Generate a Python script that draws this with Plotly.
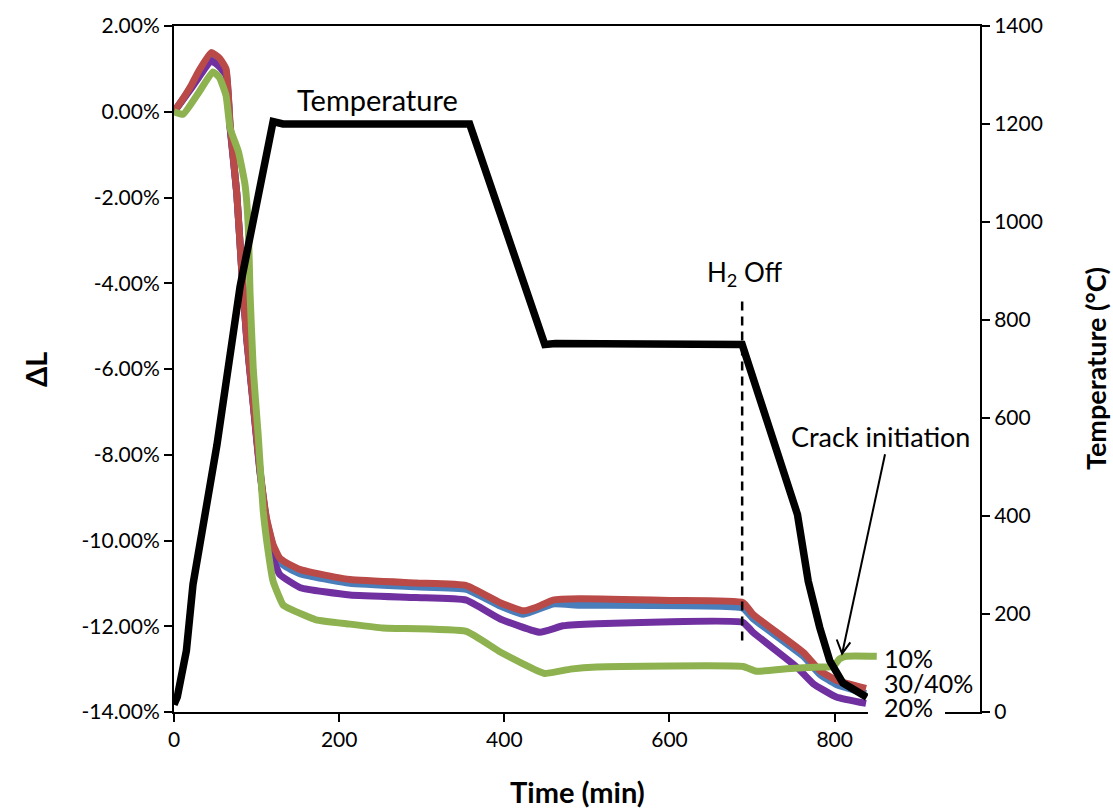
import plotly.graph_objects as go

# ---------------- data ----------------
time_temp = [0, 4, 15, 23, 52, 80, 120, 132, 358, 449, 462, 688, 755, 768, 782, 794, 810, 839]
temperature = [15, 31, 125, 260, 545, 868, 1205, 1200, 1200, 750, 752, 750, 403, 267, 172, 105, 59, 30]

time_40 = [0, 10, 21, 30, 45, 55, 63, 68, 76, 82, 88, 96, 104, 112, 120, 128, 136, 153, 168, 213, 293, 354, 395, 423, 440, 459, 491, 600, 689, 701, 762, 782, 802, 838]
dl_40 = [0, 0.28, 0.62, 0.95, 1.38, 1.25, 1.0, -0.31, -1.9, -3.7, -5.24, -6.79, -8.33, -9.48, -10.1, -10.41, -10.52, -10.68, -10.75, -10.91, -10.99, -11.05, -11.45, -11.64, -11.55, -11.39, -11.36, -11.40, -11.45, -11.72, -12.61, -13.03, -13.26, -13.45]

time_30 = [0, 10, 21, 30, 45, 55, 63, 68, 76, 82, 88, 96, 104, 112, 120, 128, 136, 153, 213, 293, 354, 395, 423, 459, 491, 689, 701, 762, 782, 802, 838]
dl_30 = [0, 0.27, 0.59, 0.88, 1.28, 1.15, 0.95, -0.35, -1.9, -3.7, -5.27, -6.8, -8.35, -9.5, -10.15, -10.5, -10.62, -10.78, -11.0, -11.08, -11.14, -11.53, -11.72, -11.48, -11.51, -11.58, -11.82, -12.7, -13.12, -13.36, -13.57]

time_20 = [0, 10, 21, 30, 45, 55, 63, 68, 76, 82, 88, 96, 104, 112, 118, 128, 153, 213, 293, 354, 395, 443, 471, 512, 689, 701, 754, 774, 802, 838]
dl_20 = [0, 0.26, 0.55, 0.8, 1.19, 1.05, 0.85, -0.4, -1.9, -3.7, -5.3, -6.85, -8.4, -9.6, -10.3, -10.79, -11.1, -11.27, -11.33, -11.39, -11.83, -12.14, -11.99, -11.94, -11.91, -12.14, -12.95, -13.34, -13.65, -13.8]

time_10 = [0, 11, 30, 47, 55, 63, 68, 78, 86, 90, 92, 96, 102, 108, 114, 120, 132, 141, 172, 213, 253, 354, 395, 449, 480, 512, 689, 705, 742, 782, 798, 806, 814, 851]
dl_10 = [0, -0.06, 0.45, 0.93, 0.8, 0.38, -0.39, -0.93, -1.7, -2.7, -4.2, -6.02, -7.56, -9.3, -10.25, -10.95, -11.5, -11.6, -11.85, -11.95, -12.04, -12.12, -12.6, -13.1, -13.0, -12.95, -12.94, -13.05, -12.99, -12.95, -12.94, -12.76, -12.7, -12.7]

x_ticks = [0, 200, 400, 600, 800]
y_ticks = [2, 0, -2, -4, -6, -8, -10, -12, -14]
y_ticktext = ["2.00%", "0.00%", "-2.00%", "-4.00%", "-6.00%", "-8.00%", "-10.00%", "-12.00%", "-14.00%"]
y2_ticks = [0, 200, 400, 600, 800, 1000, 1200, 1400]

FONT = "Lato"
C_BLUE = "#4A7EBB"
C_RED = "#B94A47"
C_PURPLE = "#7030A0"
C_GREEN = "#8DB24F"

fig = go.Figure()
lw = 7
sm = dict(shape="spline", smoothing=0.4)
fig.add_trace(go.Scatter(x=time_30, y=dl_30, mode="lines", line=dict(color=C_BLUE, width=lw, **sm), name="30%"))
fig.add_trace(go.Scatter(x=time_20, y=dl_20, mode="lines", line=dict(color=C_PURPLE, width=lw, **sm), name="20%"))
fig.add_trace(go.Scatter(x=time_40, y=dl_40, mode="lines", line=dict(color=C_RED, width=lw, **sm), name="40%"))
fig.add_trace(go.Scatter(x=time_10, y=dl_10, mode="lines", line=dict(color=C_GREEN, width=lw, **sm), name="10%"))
fig.add_trace(go.Scatter(x=time_temp, y=temperature, mode="lines", yaxis="y2",
                         line=dict(color="black", width=7.5), name="Temperature"))

# H2 off dashed line
fig.add_shape(type="line", xref="x", yref="y2", x0=688, x1=688, y0=146, y1=850,
              line=dict(color="black", width=2.5, dash="9px,6px"))

# crack initiation arrow (shaft + open head)
fig.add_shape(type="line", xref="x", yref="y2", x0=861, y0=526, x1=809, y1=119,
              line=dict(color="black", width=2))
fig.add_shape(type="path", xref="x", yref="y2", path="M 802.5,148 L 809,119 L 819,142",
              line=dict(color="black", width=2))

# white label box covering axis
fig.add_shape(type="rect", xref="paper", yref="paper", x0=0.861, x1=0.9566, y0=-0.026, y1=0.063,
              fillcolor="white", line=dict(width=0), layer="above")

tf = dict(family=FONT, color="black")
fig.add_annotation(x=246, y=1250, xref="x", yref="y2", text="Temperature", showarrow=False, font=dict(size=29, **tf))
fig.add_annotation(x=691, y=894, xref="x", yref="y2", text="H<sub>2</sub> Off", showarrow=False, font=dict(size=26, **tf))
fig.add_annotation(x=856, y=562, xref="x", yref="y2", text="Crack initiation", showarrow=False, font=dict(size=27, **tf))
fig.add_annotation(x=857, y=-12.73, xref="x", yref="y", text="10%", showarrow=False, xanchor="left", font=dict(size=25, **tf))
fig.add_annotation(x=857, y=-13.33, xref="x", yref="y", text="30/40%", showarrow=False, xanchor="left", font=dict(size=25, **tf))
fig.add_annotation(x=857, y=-13.88, xref="x", yref="y", text="20%", showarrow=False, xanchor="left", font=dict(size=25, **tf))

# axis titles
titlefont = dict(family=FONT, size=29, color="black", weight="bold")
fig.add_annotation(x=0.5, y=-0.1156, xref="paper", yref="paper", text="Time (min)", showarrow=False,
                   yanchor="middle", font=titlefont)
fig.add_annotation(x=-0.1725, y=0.5, xref="paper", yref="paper", text="ΔL", showarrow=False,
                   textangle=-90, xanchor="center", font=titlefont)
fig.add_annotation(x=1.1427, y=0.5, xref="paper", yref="paper", text="Temperature (°C)", showarrow=False,
                   textangle=-90, xanchor="center", borderpad=0,
                   font=dict(family=FONT, size=27, color="black", weight="bold"))

axfont = dict(family=FONT, size=21, color="black")

fig.update_layout(
    width=1113, height=811,
    margin=dict(l=174, r=133, t=20, b=99),
    paper_bgcolor="white", plot_bgcolor="white",
    showlegend=False,
    xaxis=dict(range=[0, 976], tickvals=x_ticks, ticks="outside", ticklen=8, tickwidth=1.5, tickcolor="black",
               showline=True, linecolor="black", linewidth=2, mirror=True, showgrid=False, zeroline=False,
               tickfont=axfont),
    yaxis=dict(range=[-14, 2], tickvals=y_ticks, ticktext=y_ticktext, ticks="outside", ticklen=8, tickwidth=1.5,
               tickcolor="black", showline=True, linecolor="black", linewidth=2, showgrid=False, zeroline=False,
               tickfont=axfont),
    yaxis2=dict(range=[0, 1400], tickvals=y2_ticks, overlaying="y", side="right", ticks="outside", ticklen=8,
                tickwidth=1.5, tickcolor="black", showline=True, linecolor="black", linewidth=2, showgrid=False,
                zeroline=False, tickfont=axfont),
)

fig.write_html("out.html")
